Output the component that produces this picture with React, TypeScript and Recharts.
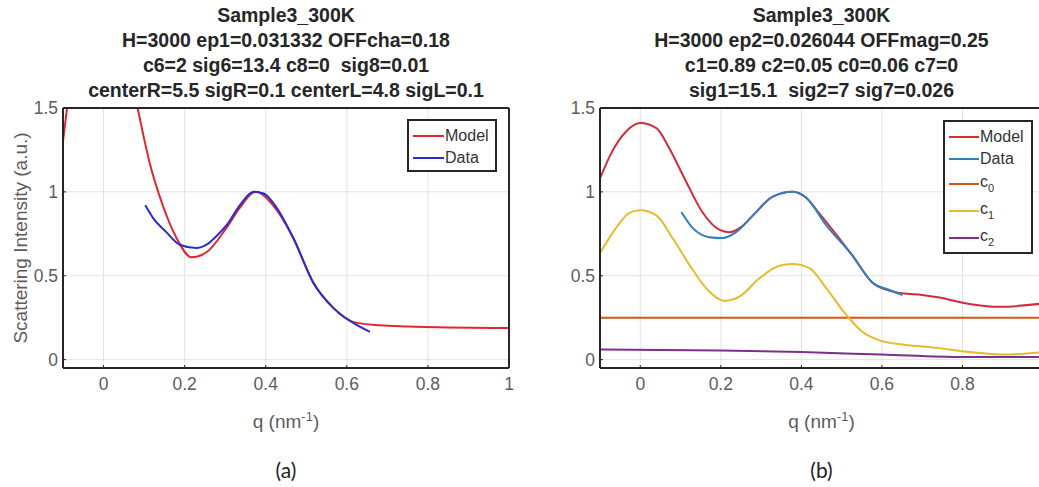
import React from 'react';
import { LineChart, Line, XAxis, YAxis, CartesianGrid, Legend } from 'recharts';

const xTicks = [0, 0.2, 0.4, 0.6, 0.8, 1];
const yTicks = [0, 0.5, 1, 1.5];
const xDomain = [-0.1, 1];
const yDomain = [-0.05, 1.5];

const titleA = [
  'Sample3_300K',
  'H=3000 ep1=0.031332 OFFcha=0.18',
  'c6=2 sig6=13.4 c8=0  sig8=0.01',
  'centerR=5.5 sigR=0.1 centerL=4.8 sigL=0.1',
];
const titleB = [
  'Sample3_300K',
  'H=3000 ep2=0.026044 OFFmag=0.25',
  'c1=0.89 c2=0.05 c0=0.06 c7=0',
  'sig1=15.1  sig2=7 sig7=0.026',
];

// panel (a)
const modelAQ = [-0.1, -0.09, -0.07, -0.04, 0, 0.03, 0.06, 0.084, 0.113, 0.146, 0.18, 0.217, 0.254, 0.303, 0.336, 0.375, 0.418, 0.468, 0.517, 0.566, 0.615, 0.68, 0.75, 0.85, 1.0];
const modelAI = [1.3, 1.5, 1.85, 2.2, 2.35, 2.1, 1.77, 1.5, 1.18, 0.92, 0.725, 0.61, 0.64, 0.785, 0.905, 1.0, 0.92, 0.725, 0.46, 0.31, 0.225, 0.205, 0.198, 0.192, 0.188];
const dataAQ = [0.103, 0.122, 0.155, 0.188, 0.229, 0.254, 0.28, 0.303, 0.336, 0.37, 0.395, 0.427, 0.468, 0.517, 0.566, 0.615, 0.657];
const dataAI = [0.92, 0.845, 0.76, 0.685, 0.665, 0.685, 0.74, 0.8, 0.92, 1.0, 0.99, 0.905, 0.725, 0.46, 0.31, 0.22, 0.165];

// panel (b)
const modelBQ = [-0.1, -0.07, -0.035, 0, 0.04, 0.072, 0.114, 0.154, 0.196, 0.221, 0.25, 0.28, 0.328, 0.378, 0.412, 0.445, 0.527, 0.576, 0.62, 0.651, 0.7, 0.743, 0.81, 0.892, 1.0];
const modelBI = [1.08, 1.24, 1.36, 1.41, 1.38, 1.26, 1.06, 0.88, 0.775, 0.76, 0.79, 0.86, 0.97, 1.0, 0.965, 0.87, 0.62, 0.46, 0.41, 0.395, 0.385, 0.37, 0.335, 0.315, 0.335];
const dataBQ = [0.102, 0.13, 0.171, 0.204, 0.238, 0.28, 0.328, 0.378, 0.412, 0.462, 0.527, 0.576, 0.619, 0.651];
const dataBI = [0.88, 0.785, 0.73, 0.725, 0.76, 0.86, 0.97, 1.0, 0.965, 0.8, 0.62, 0.46, 0.415, 0.385];
const c0Q = [-0.1, 1.0];
const c0I = [0.25, 0.25];
const c1Q = [-0.1, -0.06, -0.027, 0, 0.04, 0.08, 0.122, 0.164, 0.209, 0.246, 0.296, 0.345, 0.378, 0.42, 0.462, 0.512, 0.552, 0.594, 0.651, 0.735, 0.817, 0.9, 1.0];
const c1I = [0.635, 0.785, 0.875, 0.89, 0.86, 0.725, 0.565, 0.425, 0.35, 0.375, 0.485, 0.56, 0.57, 0.545, 0.425, 0.265, 0.165, 0.115, 0.09, 0.07, 0.045, 0.03, 0.045];
const c2Q = [-0.1, 0.2, 0.4, 0.6, 0.8, 1.0];
const c2I = [0.06, 0.055, 0.045, 0.03, 0.015, 0.015];

const toPoints = (q: number[], v: number[]) => q.map((x, i) => ({ q: x, v: v[i] }));

const FONT = '"Liberation Sans", Arial, Helvetica, sans-serif';
const AXIS = '#262626';
const TICK = '#5c5c5c';

interface Series {
  name: string;
  color: string;
  points: { q: number; v: number }[];
}

function legendLabel(name: string) {
  const m = /^c(\d)$/.exec(name);
  if (!m) return name;
  return (
    <span>
      c<sub style={{ fontSize: 11, verticalAlign: -5 }}>{m[1]}</sub>
    </span>
  );
}

// legend drawn from the series list so the order stays as plotted
function makeLegend(series: Series[], lineW: number) {
  return () => (
    <div
      style={{
        background: '#fff',
        border: `2px solid ${AXIS}`,
        boxSizing: 'border-box',
        padding: '4px 3px 1px 4px',
        fontFamily: FONT,
        fontSize: 16,
        color: '#333',
      }}
    >
      {series.map((s) => {
        const sub = /^c\d$/.test(s.name);
        return (
          <div key={s.name} style={{ display: 'flex', alignItems: 'center', height: sub ? 27 : 22, whiteSpace: 'nowrap' }}>
            <span style={{ width: lineW, height: 2, background: s.color, marginRight: 1, flexShrink: 0 }} />
            {legendLabel(s.name)}
          </div>
        );
      })}
    </div>
  );
}

interface PanelProps {
  left: number;
  width: number;
  margin: { top: number; right: number; bottom: number; left: number };
  title: string[];
  tag: string;
  series: Series[];
  legendPos: { left: number; top: number; width: number };
  legendLine: number;
  yLabel?: string;
}

function Panel({ left, width, margin, title, tag, series, legendPos, legendLine, yLabel }: PanelProps) {
  const plotLeft = margin.left + 45;
  const plotWidth = width - margin.left - margin.right - 46;
  return (
    <div style={{ position: 'absolute', left, top: 0, width, height: 487 }}>
      <div
        style={{
          position: 'absolute',
          left: plotLeft - 40,
          width: plotWidth + 80,
          top: 3,
          textAlign: 'center',
          fontFamily: FONT,
          fontWeight: 'bold',
          fontSize: 19.5,
          lineHeight: '25px',
          color: '#262626',
          whiteSpace: 'nowrap',
        }}
      >
        {title.map((t) => (
          <div key={t} style={{ whiteSpace: 'pre' }}>{t}</div>
        ))}
      </div>
      <LineChart width={width} height={400} margin={margin}>
        <CartesianGrid stroke="#e3e3e3" strokeWidth={1} />
        <XAxis
          dataKey="q"
          type="number"
          domain={xDomain}
          ticks={xTicks}
          allowDataOverflow
          height={30}
          axisLine={{ stroke: AXIS, strokeWidth: 2 }}
          tickLine={{ stroke: AXIS }}
          tickSize={-3}
          tickMargin={13}
          tick={{ fill: TICK, fontSize: 17.5, fontFamily: FONT }}
        />
        <XAxis
          xAxisId="top"
          orientation="top"
          type="number"
          domain={xDomain}
          ticks={xTicks}
          allowDataOverflow
          height={1}
          axisLine={{ stroke: AXIS, strokeWidth: 2 }}
          tickLine={{ stroke: AXIS }}
          tickSize={-3}
          tick={false}
        />
        <YAxis
          type="number"
          domain={yDomain}
          ticks={yTicks}
          allowDataOverflow
          width={45}
          axisLine={{ stroke: AXIS, strokeWidth: 2 }}
          tickLine={{ stroke: AXIS }}
          tickSize={-3}
          tickMargin={8}
          tick={{ fill: TICK, fontSize: 17.5, fontFamily: FONT }}
          label={
            yLabel
              ? {
                  value: yLabel,
                  angle: -90,
                  position: 'insideLeft',
                  offset: 2,
                  style: { textAnchor: 'middle', fill: TICK, fontSize: 19, fontFamily: FONT },
                }
              : undefined
          }
        />
        <YAxis
          yAxisId="right"
          orientation="right"
          type="number"
          domain={yDomain}
          ticks={yTicks}
          allowDataOverflow
          width={1}
          axisLine={{ stroke: AXIS, strokeWidth: 2 }}
          tickLine={{ stroke: AXIS }}
          tickSize={-3}
          tick={false}
        />
        {series.map((s) => (
          <Line
            key={s.name}
            data={s.points}
            dataKey="v"
            name={s.name}
            type="monotone"
            stroke={s.color}
            strokeWidth={2}
            dot={false}
            isAnimationActive={false}
          />
        ))}
        <Legend
          layout="horizontal"
          verticalAlign="middle"
          align="center"
          content={makeLegend(series, legendLine)}
          wrapperStyle={{ left: legendPos.left, top: legendPos.top, width: legendPos.width, height: 'auto' }}
        />
      </LineChart>
      <div
        style={{
          position: 'absolute',
          left: plotLeft,
          width: plotWidth,
          top: 406,
          textAlign: 'center',
          fontFamily: FONT,
          fontSize: 19,
          lineHeight: '22px',
          color: TICK,
        }}
      >
        q (nm<sup style={{ fontSize: 13 }}>-1</sup>)
      </div>
      <div
        style={{
          position: 'absolute',
          left: plotLeft,
          width: plotWidth,
          top: 457,
          textAlign: 'center',
          fontFamily: 'Lato, "Open Sans", sans-serif',
          fontSize: 21,
          lineHeight: '26px',
          color: '#222',
        }}
      >
        {tag}
      </div>
    </div>
  );
}

export default function App() {
  const seriesA: Series[] = [
    { name: 'Model', color: '#e3262d', points: toPoints(modelAQ, modelAI) },
    { name: 'Data', color: '#2b2bcf', points: toPoints(dataAQ, dataAI) },
  ];
  const seriesB: Series[] = [
    { name: 'Model', color: '#d42a3b', points: toPoints(modelBQ, modelBI) },
    { name: 'Data', color: '#2f7fbf', points: toPoints(dataBQ, dataBI) },
    { name: 'c0', color: '#d95319', points: toPoints(c0Q, c0I) },
    { name: 'c1', color: '#e3bd2a', points: toPoints(c1Q, c1I) },
    { name: 'c2', color: '#7e2f8e', points: toPoints(c2Q, c2I) },
  ];
  return (
    <div
      style={{
        position: 'absolute',
        left: 0,
        top: 0,
        width: 1039,
        height: 487,
        overflow: 'hidden',
        background: '#fff',
      }}
    >
      <Panel
        left={0}
        width={520}
        margin={{ top: 107, right: 10, bottom: 2, left: 18 }}
        title={titleA}
        tag="(a)"
        series={seriesA}
        legendPos={{ left: 407, top: 119, width: 90 }}
        legendLine={31}
        yLabel="Scattering Intensity (a.u.)"
      />
      <Panel
        left={520}
        width={530}
        margin={{ top: 107, right: 6, bottom: 2, left: 35 }}
        title={titleB}
        tag="(b)"
        series={seriesB}
        legendPos={{ left: 423, top: 120, width: 90 }}
        legendLine={30}
      />
    </div>
  );
}
